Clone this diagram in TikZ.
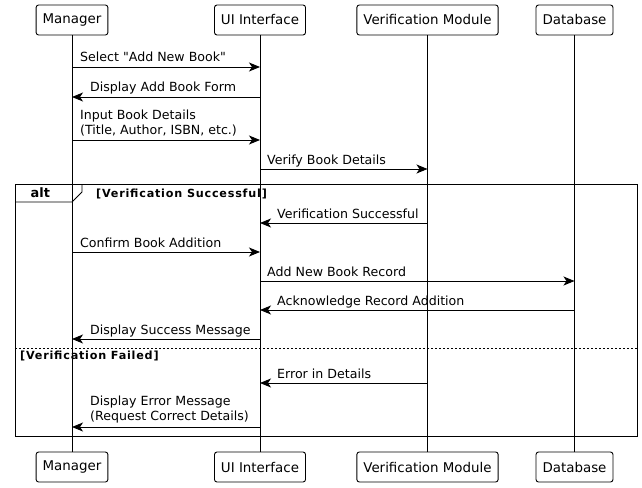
\documentclass[tikz,border=0pt]{standalone}
\usepackage{fontspec}
\setmainfont{DejaVu Sans}[Ligatures=TeXOff]
\usetikzlibrary{arrows.meta}
\begin{document}
\begin{tikzpicture}[x=1pt,y=-1pt,
  part/.style={draw,line width=0.9pt,rounded corners=2.5pt,minimum height=30pt,inner xsep=6.5pt,font=\fontsize{13.4}{15}\selectfont},
  life/.style={line width=0.9pt},
  msg/.style={line width=0.9pt,-{Stealth[length=11pt,width=9pt,inset=3pt]}},
  lbl/.style={anchor=base west,inner sep=0pt,font=\fontsize{12.6}{15}\selectfont},
  lbltwo/.style={anchor=south west,inner sep=0pt,font=\fontsize{12.6}{15}\selectfont,align=left},
  grp/.style={line width=0.9pt},
  glbl/.style={anchor=base west,inner sep=0pt,font=\bfseries\fontsize{11.2}{12}\selectfont\addfontfeature{LetterSpace=7}}]
\useasboundingbox (0,0) rectangle (642,487);
% participants
\node[part] (Mt) at (72,20) {Manager};
\node[part] (Ut) at (260,20) {UI Interface};
\node[part] (Vt) at (427.5,20) {Verification Module};
\node[part] (Dt) at (574.5,20) {Database};
\node[part] (Mb) at (72,467) {Manager};
\node[part] (Ub) at (260,467) {UI Interface};
\node[part] (Vb) at (427.5,467) {Verification Module};
\node[part] (Db) at (574.5,467) {Database};
\draw[life] (Mt) -- (Mb);
\draw[life] (Ut) -- (Ub);
\draw[life] (Vt) -- (Vb);
\draw[life] (Dt) -- (Db);
% alt group
\draw[grp] (15,184) rectangle (637,436);
\draw[grp] (15,202) -- (72,202) -- (82,192) -- (82,184);
\node[anchor=base west,inner sep=0pt,font=\bfseries\fontsize{12.9}{14}\selectfont] (altl) at (30.5,197.5) {alt};
\node[glbl] (g1) at (96,197) {[Verification Successful]};
\draw[line width=0.6pt,dash pattern=on 2pt off 2pt] (15,348) -- (637,348);
\node[glbl] (g2) at (20,359) {[Verification Failed]};
% message coordinates
\foreach \n/\y in {1/67,2/97,3/140,4/169,5/223,6/252,7/281,8/310,9/339,10/383,11/427}{
  \coordinate (M\n) at (72,\y);
  \coordinate (U\n) at (260,\y);
  \coordinate (V\n) at (427.5,\y);
  \coordinate (D\n) at (574.5,\y);
}
\draw[msg] (M1) -- (U1);
\node[lbl] (t1) at (80,62) {Select "Add New Book"};
\draw[msg] (U2) -- (M2);
\node[lbl] (t2) at (90,92) {Display Add Book Form};
\draw[msg] (M3) -- (U3);
\node[lbltwo] (t3) at (80,136.5) {Input Book Details\\(Title, Author, ISBN, etc.)};
\draw[msg] (U4) -- (V4);
\node[lbl] (t4) at (267,164) {Verify Book Details};
\draw[msg] (V5) -- (U5);
\node[lbl] (t5) at (277,218) {Verification Successful};
\draw[msg] (M6) -- (U6);
\node[lbl] (t6) at (80,247) {Confirm Book Addition};
\draw[msg] (U7) -- (D7);
\node[lbl] (t7) at (267,276) {Add New Book Record};
\draw[msg] (D8) -- (U8);
\node[lbl] (t8) at (277,305) {Acknowledge Record Addition};
\draw[msg] (U9) -- (M9);
\node[lbl] (t9) at (90,334) {Display Success Message};
\draw[msg] (V10) -- (U10);
\node[lbl] (t10) at (277,378) {Error in Details};
\draw[msg] (U11) -- (M11);
\node[lbltwo] (t11) at (90,423.5) {Display Error Message\\(Request Correct Details)};
\end{tikzpicture}
\end{document}
